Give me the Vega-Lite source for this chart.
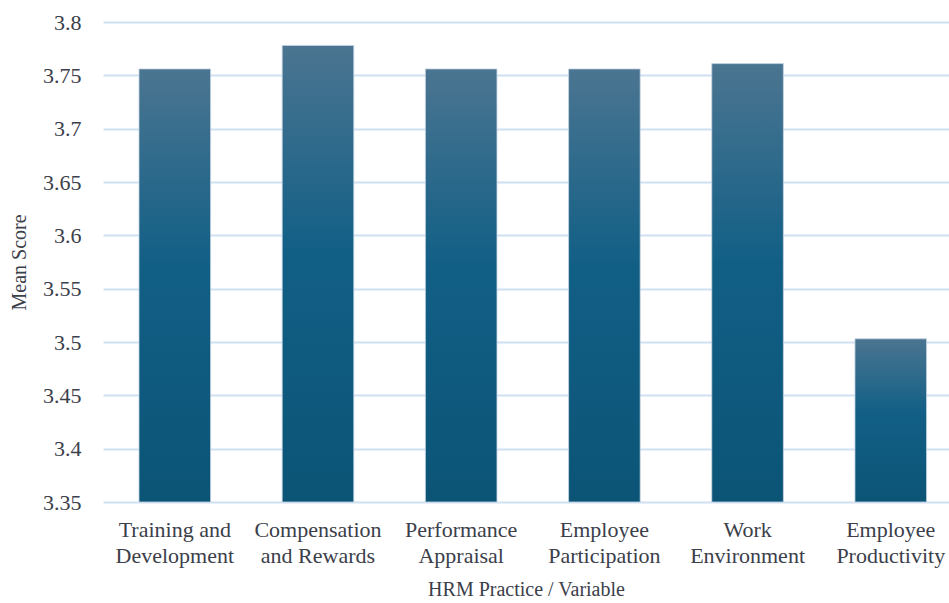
{
  "$schema": "https://vega.github.io/schema/vega-lite/v6.json",
  "autosize": "none",
  "width": 846,
  "height": 480,
  "padding": {"left": 103, "top": 22, "right": 0, "bottom": 101},
  "background": "white",
  "data": {
    "values": [
      {"practice": "Training and Development", "mean": 3.756},
      {"practice": "Compensation and Rewards", "mean": 3.778},
      {"practice": "Performance Appraisal", "mean": 3.756},
      {"practice": "Employee Participation", "mean": 3.756},
      {"practice": "Work Environment", "mean": 3.761},
      {"practice": "Employee Productivity", "mean": 3.503}
    ]
  },
  "mark": {
    "type": "bar",
    "stroke": "#c5d4e2",
    "strokeWidth": 0.8,
    "fill": {
      "gradient": "linear",
      "x1": 0, "y1": 0, "x2": 0, "y2": 1,
      "stops": [
        {"offset": 0, "color": "#4b7591"},
        {"offset": 0.45, "color": "#125f86"},
        {"offset": 1, "color": "#0b5476"}
      ]
    }
  },
  "encoding": {
    "x": {
      "field": "practice",
      "type": "nominal",
      "sort": null,
      "scale": {"paddingInner": 0.5, "paddingOuter": 0.204, "align": 0.616},
      "axis": {
        "title": "HRM Practice / Variable",
        "labelFont": "Liberation Serif",
        "titleFont": "Liberation Serif",
        "labelAngle": 0,
        "labelExpr": "datum.label == 'Training and Development' ? ['Training and', 'Development'] : datum.label == 'Compensation and Rewards' ? ['Compensation', 'and Rewards'] : split(datum.label, ' ')",
        "labelLineHeight": 26,
        "labelPadding": 17,
        "ticks": false,
        "domain": false,
        "titlePadding": 13
      }
    },
    "y": {
      "field": "mean",
      "type": "quantitative",
      "scale": {"domain": [3.35, 3.8], "zero": false, "nice": false},
      "axis": {
        "title": "Mean Score",
        "labelFont": "Liberation Serif",
        "titleFont": "Liberation Serif",
        "values": [3.35, 3.4, 3.45, 3.5, 3.55, 3.6, 3.65, 3.7, 3.75, 3.8],
        "labelExpr": "datum.value == 3.8 ? '3.8' : datum.value == 3.7 ? '3.7' : datum.value == 3.6 ? '3.6' : datum.value == 3.5 ? '3.5' : datum.value == 3.4 ? '3.4' : format(datum.value, '.2f')",
        "ticks": false,
        "domain": false,
        "labelPadding": 22,
        "titlePadding": 13
      }
    },
    "y2": {"datum": 3.35}
  },
  "config": {
    "view": {"stroke": null},
    "font": "Liberation Serif",
    "style": {"guide-label": {"font": "Liberation Serif"}, "guide-title": {"font": "Liberation Serif"}},
    "axis": {
      "labelFont": "Liberation Serif",
      "titleFont": "Liberation Serif",
      "labelFontSize": 22,
      "titleFontSize": 20,
      "titleFontWeight": "normal",
      "labelColor": "#3b404a",
      "titleColor": "#3b404a",
      "gridColor": "#cfe0f2",
      "gridWidth": 2,
      "gridOpacity": 1
    },
    "axisX": {"grid": false},
    "axisY": {"grid": true}
  }
}
